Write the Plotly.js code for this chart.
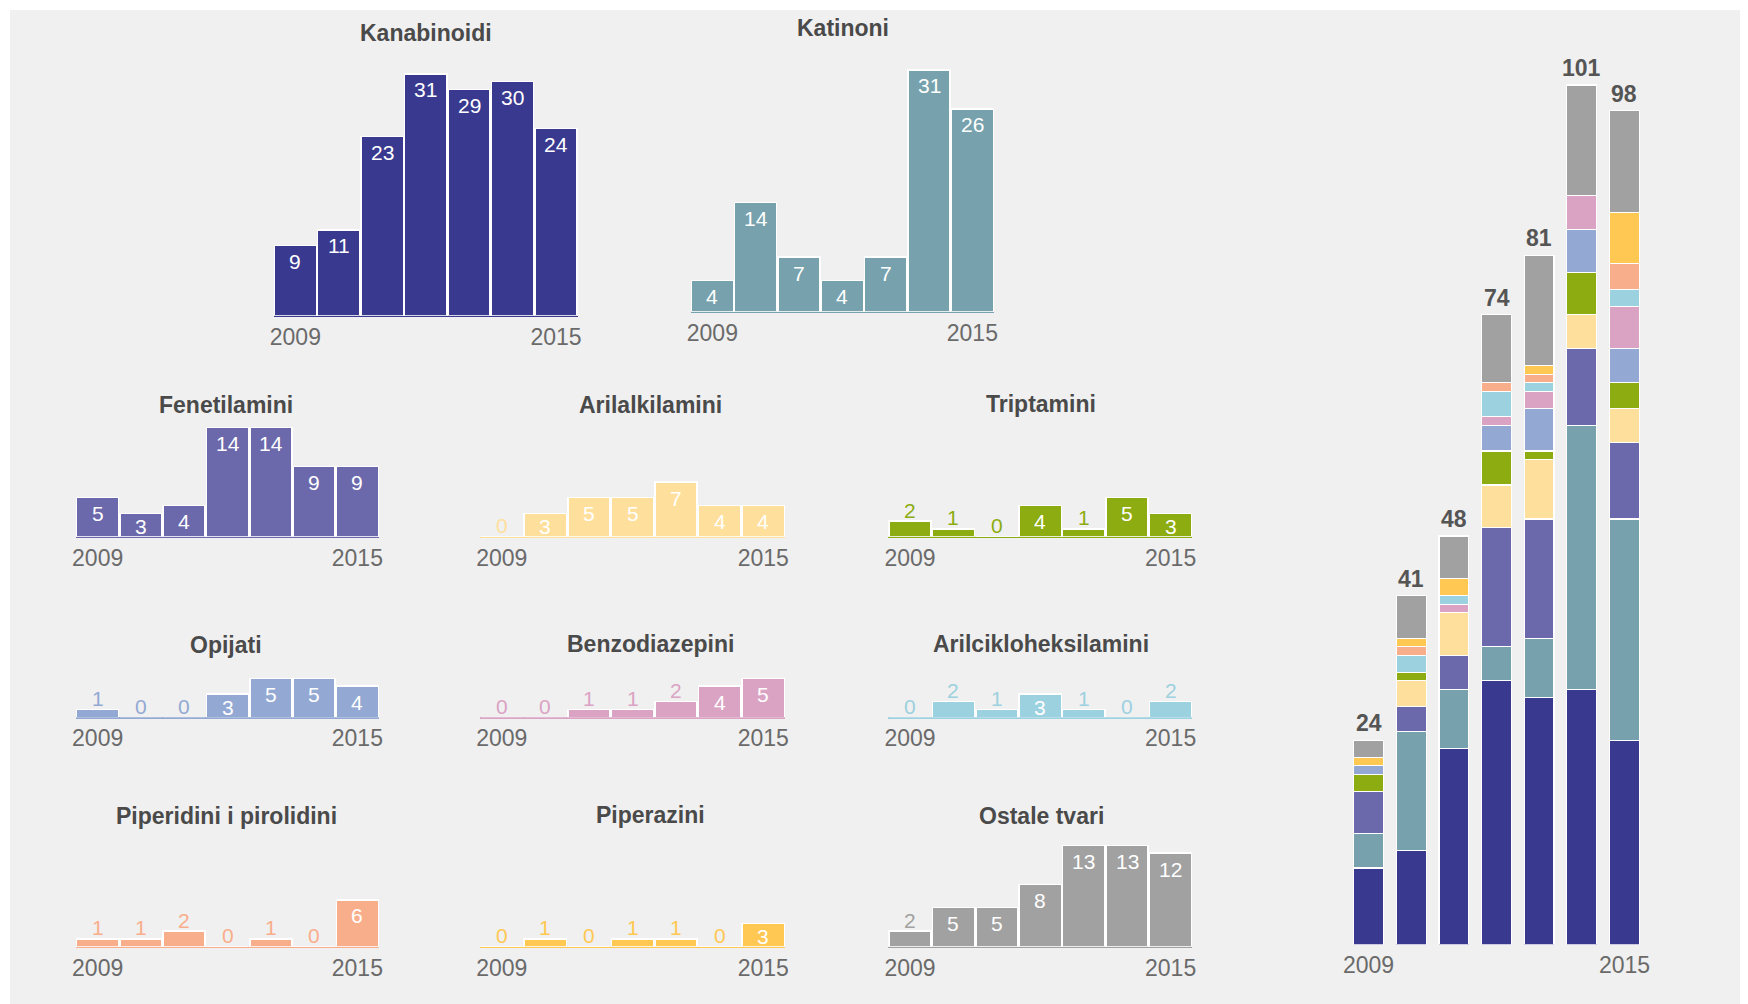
<!DOCTYPE html>
<html><head><meta charset="utf-8">
<script src="https://cdn.plot.ly/plotly-3.0.1.min.js"></script>
<style>html,body{margin:0;padding:0;background:#fff;}#chart{width:1748px;height:1004px;}</style>
</head><body><div id="chart"></div>
<script>
// ---------- DATA ----------
const years = ['2009','2010','2011','2012','2013','2014','2015'];
const categories = ['Kanabinoidi','Katinoni','Fenetilamini','Arilalkilamini','Triptamini','Opijati','Benzodiazepini','Arilcikloheksilamini','Piperidini i pirolidini','Piperazini','Ostale tvari'];
const kanabinoidi = [9,11,23,31,29,30,24];
const katinoni = [4,14,7,4,7,31,26];
const fenetilamini = [5,3,4,14,14,9,9];
const arilalkilamini = [0,3,5,5,7,4,4];
const triptamini = [2,1,0,4,1,5,3];
const opijati = [1,0,0,3,5,5,4];
const benzodiazepini = [0,0,1,1,2,4,5];
const arilcikloheksilamini = [0,2,1,3,1,0,2];
const piperidini = [1,1,2,0,1,0,6];
const piperazini = [0,1,0,1,1,0,3];
const ostale = [2,5,5,8,13,13,12];
const seriesValues = [kanabinoidi,katinoni,fenetilamini,arilalkilamini,triptamini,opijati,benzodiazepini,arilcikloheksilamini,piperidini,piperazini,ostale];
// order of the series in the stacked overview (bottom to top)
const stackOrder = [0,1,2,3,4,5,6,7,9,8,10];

// ---------- STYLE / LAYOUT ----------
const colors = ['#393A8F','#77A2AD','#6B69AB','#FFDF9C','#8CAC12','#93A9D3','#DBA3C3','#9CD1DF','#F9AE8B','#FFC853','#A1A1A1'];
const W = 1748, H = 1004;
const PX = 7.8;      // pixels per unit in small multiples
const PXS = 8.51;    // pixels per unit in stacked chart
const FONT = 'Liberation Sans, Arial, sans-serif';
// panel boxes: [x0, x1, baselineY, titleX, titleY, yRangeMax]
const panels = [
  [273.6, 577.8, 315.7, 425.5, 33.3, 34],
  [690.7, 994.0, 311.7, 843.0, 28.3, 34],
  [76, 379, 536.7, 226, 405, 16],
  [480, 785, 536.7, 650.7, 405, 16],
  [888.3, 1192.3, 536.7, 1041, 404, 16],
  [76, 379, 717.3, 226, 645, 16],
  [480, 785, 717.3, 650.7, 644, 16],
  [888.3, 1192.3, 717.3, 1041, 644, 16],
  [76, 379, 946.7, 226, 815.5, 16],
  [480, 785, 946.7, 650.7, 815, 16],
  [888.3, 1192.3, 946.7, 1041, 816, 16]
];
const stackBox = {x0: 1347.2, x1: 1645.8, base: 944.5, rmax: 110};

const px2x = p => p / W;
const px2y = p => 1 - p / H;
const xIdx = years.map((_, i) => i);

const traces = [];
const annotations = [];
const layout = {
  width: W, height: H,
  margin: {l: 0, r: 0, t: 0, b: 0},
  paper_bgcolor: '#ffffff',
  plot_bgcolor: 'rgba(0,0,0,0)',
  showlegend: false,
  hovermode: false,
  bargap: 0.03,
  font: {family: FONT},
  shapes: [{type: 'rect', xref: 'paper', yref: 'paper', x0: px2x(10), x1: px2x(1740), y0: 0, y1: px2y(10),
            fillcolor: '#F0F0F0', line: {width: 0}, layer: 'below'}]
};

function axisPair(k, x0, x1, base, rmax, pxu, lineColor) {
  const xa = {
    domain: [px2x(x0), px2x(x1)], range: [-0.5, 6.5], anchor: 'y' + k,
    tickvals: [0, 6], ticktext: [years[0], years[6]], ticks: '',
    tickfont: {size: 23, color: '#6a6a6a', family: FONT},
    showgrid: false, zeroline: false, fixedrange: true,
    showline: !!lineColor, linecolor: lineColor || '#fff', linewidth: 1.5, layer: 'below traces'
  };
  const ya = {
    domain: [px2y(base), px2y(base - rmax * pxu)], range: [0, rmax], anchor: 'x' + k,
    visible: false, showgrid: false, zeroline: false, fixedrange: true
  };
  layout['xaxis' + (k === 1 ? '' : k)] = xa;
  layout['yaxis' + (k === 1 ? '' : k)] = ya;
}

// small multiples
seriesValues.forEach((vals, s) => {
  const k = s + 1;
  const [x0, x1, base, tx, ty, rmax] = panels[s];
  axisPair(k, x0, x1, base, rmax, PX, colors[s]);
  const ax = k === 1 ? '' : k;
  traces.push({
    type: 'bar', x: xIdx, y: vals, xaxis: 'x' + ax, yaxis: 'y' + ax,
    marker: {color: colors[s], line: {color: '#ffffff', width: 1.5}},
    hoverinfo: 'skip'
  });
  vals.forEach((v, i) => {
    const inside = v >= 3;
    annotations.push({
      xref: 'x' + ax, yref: 'y' + ax, x: i, y: v, showarrow: false,
      text: String(v), yanchor: 'middle', xanchor: 'center',
      yshift: inside ? -Math.min(16, v * PX - 10) : 11,
      font: {size: 21, color: inside ? '#ffffff' : colors[s], family: FONT}
    });
  });
  annotations.push({
    xref: 'paper', yref: 'paper', x: px2x(tx), y: px2y(ty), showarrow: false,
    text: categories[s], xanchor: 'center', yanchor: 'middle',
    font: {size: 23, color: '#4a4a4a', family: FONT, weight: 'bold'}
  });
});

// stacked overview chart
const KS = seriesValues.length + 1;
axisPair(KS, stackBox.x0, stackBox.x1, stackBox.base, stackBox.rmax, PXS, null);
layout['xaxis' + KS].showline = false;
layout['xaxis' + KS].ticklabelstandoff = 4;
stackOrder.forEach((s, pos) => {
  traces.push({
    type: 'bar', x: xIdx, y: seriesValues[s], xaxis: 'x' + KS, yaxis: 'y' + KS,
    width: 0.7,
    marker: {color: colors[pos], line: {color: '#ffffff', width: 1.2}},
    hoverinfo: 'skip'
  });
});
layout.barmode = 'stack';
const totals = xIdx.map(i => seriesValues.reduce((a, vals) => a + vals[i], 0));
totals.forEach((t, i) => {
  annotations.push({
    xref: 'x' + KS, yref: 'y' + KS, x: i, y: t, showarrow: false,
    text: String(t), yanchor: 'middle', xanchor: 'center', yshift: 17,
    font: {size: 23, color: '#555555', family: FONT, weight: 'bold'}
  });
});

layout.annotations = annotations;
Plotly.newPlot('chart', traces, layout, {displayModeBar: false, staticPlot: true});
</script>
</body></html>
